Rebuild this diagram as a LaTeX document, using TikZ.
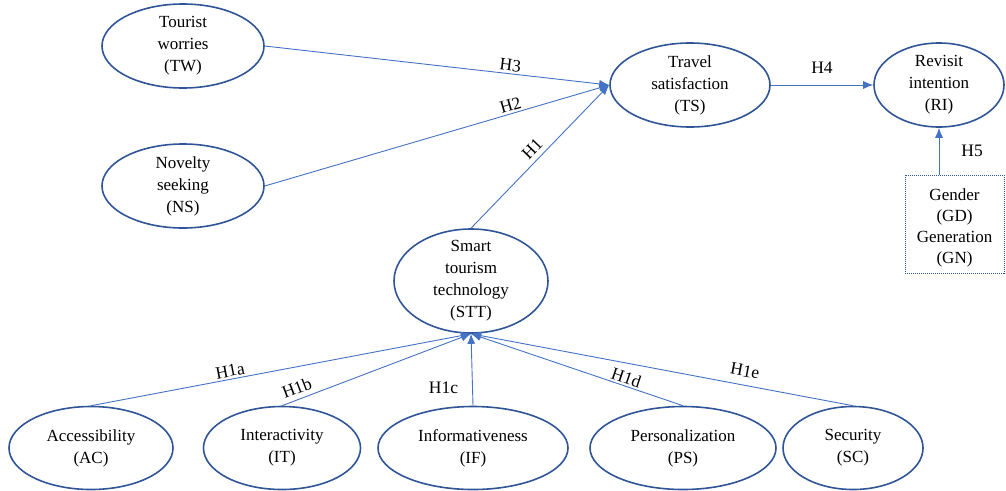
\documentclass[tikz,border=0pt]{standalone}
\usepackage{fontspec}
\setmainfont{Liberation Serif}
\usetikzlibrary{shapes.geometric,arrows.meta}
\definecolor{ellc}{HTML}{2F5597}
\definecolor{arrc}{HTML}{4472C4}
\begin{document}
\begin{tikzpicture}[x=1pt,y=-1pt,
 ell/.style={ellipse,draw=ellc,line width=1.6pt,inner sep=0pt},
 txt/.style={align=center,font=\fontsize{17}{22}\selectfont,inner sep=0pt},
 conn/.style={draw=arrc,line width=0.9pt,-{Latex[length=10pt,width=8pt]}},
 connr/.style={draw=arrc,line width=0.9pt,{Latex[length=10pt,width=8pt]}-},
 hl/.style={font=\fontsize{17.5}{20}\selectfont,inner sep=2pt}]
\useasboundingbox (0,0) rectangle (1006,490);
% ellipses
\node[ell,minimum width=162,minimum height=84] (tw) at (183,46) {};
\node[txt] (twt) at (tw) {Tourist\\worries\\(TW)};
\node[ell,minimum width=162,minimum height=84] (ns) at (183,186) {};
\node[txt] (nst) at (ns) {Novelty\\seeking\\(NS)};
\node[ell,minimum width=160,minimum height=84] (ts) at (690,85) {};
\node[txt] (tst) at (ts) {Travel\\satisfaction\\(TS)};
\node[ell,minimum width=130,minimum height=84] (ri) at (939,85) {};
\node[txt] (rit) at (ri) {Revisit\\intention\\(RI)};
\node[ell,minimum width=154,minimum height=104] (stt) at (471,281) {};
\node[txt] (sttt) at (stt) {Smart\\tourism\\technology\\(STT)};
\node[ell,minimum width=164,minimum height=83] (ac) at (91,448) {};
\node[txt] (act) at (ac) {Accessibility\\(AC)};
\node[ell,minimum width=157,minimum height=83] (it) at (282,448) {};
\node[txt] (itt) at (it) {Interactivity\\(IT)};
\node[ell,minimum width=190,minimum height=83] (if) at (473,448) {};
\node[txt] (ift) at (if) {Informativeness\\(IF)};
\node[ell,minimum width=186,minimum height=83] (ps) at (683,448) {};
\node[txt] (pst) at (ps) {Personalization\\(PS)};
\node[ell,minimum width=140,minimum height=83] (sc) at (853,448) {};
\node[txt] (sct) at (sc) {Security\\(SC)};
% control box
\node[draw=ellc,dash pattern=on 1pt off 1pt,line width=1pt,minimum width=99,minimum height=98,inner sep=0pt] (gd) at (954.5,224) {};
\node[txt,font=\fontsize{17}{21}\selectfont] (gdt) at (954.5,228) {Gender\\(GD)\\Generation\\(GN)};
% connectors
\draw[conn] (tw.east) -- (ts.west) node[pos=0.71,sloped,above,hl] {H3};
\draw[conn] (ns.east) -- (ts.west) node[pos=0.72,sloped,above,hl] {H2};
\draw[conn] (stt.north) -- (ts.west) node[pos=0.5,sloped,above=3pt,hl] {H1};
\draw[conn] (ts.east) -- (ri.west) node[midway,above=9pt,hl] {H4};
\coordinate (gdtop) at (ri.south |- gd.north);
\draw[conn] (gdtop) -- (ri.south) node[midway,right,xshift=20pt,hl] {H5};
\draw[conn] (ac.north) -- (stt.south) node[pos=0.37,sloped,above,hl] {H1a};
\draw[conn] (it.north) -- (stt.south) node[pos=0.1,sloped,above=3pt,hl] {H1b};
\draw[conn] (if.north) -- (stt.south) node[pos=0.25,left,xshift=-12pt,hl] {H1c};
\draw[connr] (stt.south) -- (ps.north) node[pos=0.72,sloped,above,hl] {H1d};
\draw[connr] (stt.south) -- (sc.north) node[pos=0.71,sloped,above=6pt,hl] {H1e};
\end{tikzpicture}
\end{document}
